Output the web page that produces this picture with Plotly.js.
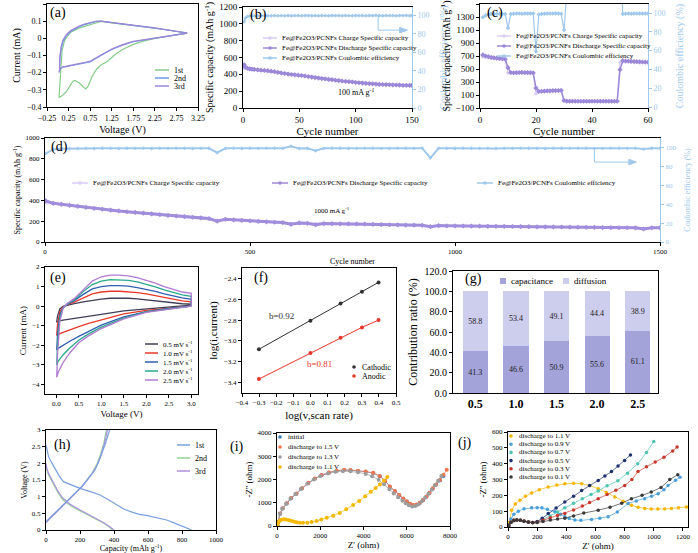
<!DOCTYPE html>
<html><head><meta charset="utf-8">
<script src="https://cdn.plot.ly/plotly-3.0.1.min.js"></script>
<style>html,body{margin:0;padding:0;background:#fff}#chart{width:698px;height:553px}</style>
</head><body><div id="chart"></div>
<script>
// ---------------- DATA ----------------
// (a) CV first three cycles
const aNames = ['1st','2nd','3rd'];
const aV1 = [3.0,2.75,2.5,2.25,2.0,1.75,1.5,1.3,1.15,1.0,0.9,0.8,0.7,0.65,0.6,0.5,0.4,0.35,0.3,0.2,0.1,0.05,0.03,0.04,0.06,0.1,0.15,0.2,0.3,0.4,0.5,0.6,0.75,0.9,1.0,1.25,1.5,1.75,2.0,2.25,2.5,2.75,3.0];
const aI1 = [0.03,0.02,0.012,0,-0.015,-0.035,-0.065,-0.1,-0.135,-0.155,-0.18,-0.22,-0.28,-0.295,-0.285,-0.26,-0.245,-0.25,-0.27,-0.31,-0.335,-0.345,-0.345,-0.3,-0.2,-0.07,-0.02,0.005,0.035,0.05,0.06,0.068,0.078,0.09,0.098,0.09,0.083,0.075,0.068,0.06,0.05,0.04,0.032];
const aV2 = [3.0,2.75,2.5,2.25,2.0,1.75,1.5,1.25,1.0,0.85,0.75,0.6,0.5,0.4,0.3,0.2,0.1,0.05,0.03,0.04,0.05,0.08,0.12,0.2,0.3,0.4,0.5,0.6,0.75,0.9,1.0,1.25,1.5,1.75,2.0,2.25,2.5,2.75,3.0];
const aI2 = [0.03,0.02,0.012,0.003,-0.008,-0.02,-0.04,-0.065,-0.1,-0.125,-0.138,-0.145,-0.15,-0.153,-0.157,-0.162,-0.17,-0.18,-0.195,-0.19,-0.12,-0.06,-0.02,0.015,0.04,0.055,0.068,0.078,0.09,0.098,0.1,0.092,0.085,0.077,0.069,0.06,0.05,0.04,0.03];
const aV3 = [3.0,2.75,2.5,2.25,2.0,1.75,1.5,1.25,1.0,0.85,0.75,0.6,0.5,0.4,0.3,0.2,0.1,0.05,0.03,0.04,0.05,0.08,0.12,0.2,0.3,0.4,0.5,0.6,0.75,0.9,1.0,1.25,1.5,1.75,2.0,2.25,2.5,2.75,3.0];
const aI3 = [0.03,0.021,0.013,0.004,-0.006,-0.018,-0.037,-0.062,-0.097,-0.12,-0.133,-0.142,-0.147,-0.15,-0.154,-0.159,-0.168,-0.18,-0.2,-0.19,-0.1,-0.045,-0.01,0.022,0.045,0.06,0.072,0.082,0.093,0.1,0.1,0.093,0.086,0.078,0.07,0.061,0.051,0.041,0.031];

// (b)(c)(d) series names
const capNames = ['Fe@Fe2O3/PCNFs Charge Specific capacity','Fe@Fe2O3/PCNFs Discharge Specific capacity','Fe@Fe2O3/PCNFs Coulombic efficiency'];

// (b) 100 mA/g cycling
const bCycle = [1,2,4,6,8,10,13,16,19,22,25,28,31,34,37,40,43,46,49,52,55,58,61,64,67,70,73,76,79,82,85,88,91,94,97,100,103,106,109,112,115,118,121,124,127,130,133,136,139,142,145,148,150];
const bDis = [515,488,472,466,462,458,454,450,447,443,438,431,424,417,410,403,398,394,390,386,380,373,367,361,356,350,345,340,336,331,326,321,317,313,309,303,300,296,293,290,287,284,281,279,278,276,274,273,272,270,269,268,268];
const bChg = [470,470,462,458,455,452,449,446,443,440,435,428,421,414,407,400,395,391,387,383,377,370,364,358,353,347,342,337,333,328,323,318,314,310,306,300,297,293,290,287,284,281,278,276,275,273,271,270,269,267,266,265,265];
const bCE = [93,97,98.8,99.2,99.5,99.4,99.6,99.5,99.7,99.6,99.5,99.8,99.6,99.7,99.5,99.8,99.6,99.7,99.9,99.6,99.8,99.7,99.5,99.8,99.6,99.9,99.7,99.6,99.8,99.7,99.9,99.6,99.8,99.7,99.5,99.9,99.7,99.8,99.6,99.9,99.7,100.2,99.8,99.6,99.9,99.7,99.8,99.6,99.9,99.7,99.8,99.6,99.8];

// (c) rate performance
const cCycle = [1,2,3,4,5,6,7,8,9,10,11,12,13,14,15,16,17,18,19,20,21,22,23,24,25,26,27,28,29,30,31,32,33,34,35,36,37,38,39,40,41,42,43,44,45,46,47,48,49,50,51,52,53,54,55,56,57,58,59,60];
const cDis = [717,700,690,680,672,668,663,658,651,520,446,442,444,446,447,445,444,443,440,206,155,158,160,163,165,167,168,169,170,17,5,5,4,4,4,4,4,4,4,4,4,4,4,4,4,4,4,4,4,490,628,622,620,617,614,612,610,608,606,604];
const cChg = [690,685,676,668,662,658,654,650,645,440,438,440,442,443,443,442,441,440,438,120,150,155,158,160,163,165,166,167,168,10,4,4,4,4,4,4,4,4,4,4,4,4,4,4,4,4,4,4,4,600,620,618,616,614,611,609,607,605,603,601];
const cCE = [95.5,97.5,98.5,99,99,99,99.2,99,99,84,99,99.3,99.5,99.5,99.3,99.5,99.4,99.5,99.4,59,98.5,99,99.3,99.4,99.5,99.5,99.6,99.5,99.2,82,160,160,160,160,160,160,160,160,160,160,160,160,160,160,160,160,160,160,160,160,99,99.2,99.4,99.3,99.5,99.4,99.5,99.4,99.5,99.4];

// (d) 1000 mA/g long cycling
const dCycle = [1,20,40,60,80,100,120,140,160,180,200,220,240,260,280,300,320,340,360,380,400,420,440,460,480,500,520,540,560,580,600,620,640,660,680,700,720,740,760,780,800,820,840,860,880,900,920,940,960,980,1000,1020,1040,1060,1080,1100,1120,1140,1160,1180,1200,1220,1240,1260,1280,1300,1320,1340,1360,1380,1400,1420,1440,1460,1480,1500];
const dDis = [397,372,362,352,342,332,323,315,307,299,291,284,277,270,263,256,250,244,238,232,226,200,218,213,208,203,198,194,190,187,170,183,180,165,177,176,175,175,174,172,170,168,166,165,163,162,160,147,158,156,155,154,153,152,151,151,150,149,148,147,146,146,145,144,143,142,141,140,139,138,137,137,136,125,137,138];
const dChg = [380,368,359,349,339,330,321,313,305,297,289,282,275,268,261,254,248,242,236,230,224,210,216,211,206,201,196,192,188,185,178,181,178,172,175,174,173,173,172,170,168,166,164,163,161,160,158,152,156,154,153,152,151,150,149,149,148,147,146,145,144,144,143,142,141,140,139,138,137,136,135,135,134,130,135,136];
const dCE = [94,98.5,99.2,99.4,99.5,99.6,99.5,99.7,99.6,99.5,99.7,99.6,99.8,99.5,99.7,99.6,99.8,99.7,99.5,99.6,99.7,95,99.6,99.8,99.5,99.7,99.6,99.8,99.7,99.6,101.8,99.5,99.7,97,99.6,99.8,99.7,99.5,99.6,99.8,99.7,99.6,99.5,99.8,99.7,99.6,99.8,89.5,99.7,99.6,99.5,99.8,99.7,99.6,99.8,99.5,99.7,99.6,99.8,99.7,99.6,99.5,99.8,99.7,99.6,99.8,99.7,99.5,99.6,99.8,99.7,99.6,99.8,98.8,99.7,99.6];

// (e) CV at different scan rates
const eNames = ['0.5 mV s<sup>-1</sup>','1.0 mV s<sup>-1</sup>','1.5 mV s<sup>-1</sup>','2.0 mV s<sup>-1</sup>','2.5 mV s<sup>-1</sup>'];
const eV = [3.0,2.5,2.0,1.5,1.0,0.7,0.5,0.3,0.15,0.05,0.01,0.01,0.03,0.08,0.15,0.25,0.4,0.6,0.8,1.0,1.2,1.4,1.6,1.8,2.0,2.2,2.4,2.6,2.8,3.0,3.0];
const eI05 = [0.05,-0.05,-0.13,-0.25,-0.42,-0.52,-0.58,-0.65,-0.72,-0.77,-0.8,-0.8,-0.5,-0.15,-0.02,0.05,0.12,0.22,0.3,0.36,0.4,0.41,0.4,0.37,0.32,0.27,0.21,0.16,0.12,0.1,0.05];
const eI10 = [0.0,-0.1,-0.22,-0.4,-0.7,-0.9,-1.05,-1.2,-1.35,-1.45,-1.5,-1.5,-0.9,-0.3,-0.05,0.08,0.2,0.42,0.62,0.72,0.76,0.76,0.74,0.69,0.62,0.53,0.44,0.35,0.27,0.22,0.0];
const eI15 = [0.0,-0.12,-0.28,-0.55,-0.98,-1.3,-1.55,-1.8,-2.0,-2.15,-2.25,-2.25,-1.4,-0.45,-0.08,0.1,0.28,0.6,0.88,1.0,1.05,1.05,1.02,0.95,0.86,0.75,0.63,0.52,0.42,0.35,0.0];
const eI20 = [0.0,-0.14,-0.3,-0.62,-1.08,-1.45,-1.75,-2.15,-2.5,-2.8,-3.0,-3.0,-1.9,-0.6,-0.1,0.12,0.33,0.75,1.1,1.28,1.35,1.35,1.32,1.24,1.12,0.98,0.83,0.69,0.57,0.5,0.0];
const eI25 = [0.0,-0.15,-0.32,-0.66,-1.15,-1.55,-1.88,-2.4,-2.9,-3.35,-3.65,-3.65,-2.4,-0.8,-0.12,0.14,0.38,0.85,1.28,1.5,1.58,1.58,1.55,1.46,1.33,1.17,1.0,0.85,0.72,0.65,0.0];

// (f) log(i) vs log(v)
const fNames = ['Cathodic','Anodic'];
const fLogV = [-0.301,0.0,0.176,0.301,0.398];
const fCath = [-3.08,-2.806,-2.64,-2.527,-2.438];
const fAnod = [-3.366,-3.115,-2.97,-2.87,-2.80];
const fLabels = ['b=0.92','b=0.81'];

// (g) contribution ratio
const gNames = ['capacitance','diffusion'];
const gRates = ['0.5','1.0','1.5','2.0','2.5'];
const gCap = [41.3,46.6,50.9,55.6,61.1];
const gDif = [58.8,53.4,49.1,44.4,38.9];

// (h) charge/discharge profiles
const hNames = ['1st','2nd','3rd'];
const h1dCap = [0,5,15,30,41,60,80,102,150,200,260,318,370,415,460,514,550,590,650,710,760,800,830,857];
const h1dV = [2.55,2.4,2.2,2.05,1.95,1.75,1.6,1.45,1.35,1.25,1.15,1.05,0.9,0.75,0.62,0.52,0.47,0.44,0.38,0.3,0.2,0.12,0.06,0.0];
const h1cCap = [0,30,60,90,118,150,180,200,230,259,288,310,330,350,365,375];
const h1cV = [0.25,0.4,0.55,0.7,0.82,0.98,1.12,1.25,1.42,1.6,1.8,2.05,2.3,2.6,2.85,3.0];
const h2dCap = [0,5,15,31,51,75,100,140,190,240,290,340,370,390];
const h2dV = [1.95,1.8,1.65,1.5,1.3,1.08,0.9,0.74,0.6,0.47,0.35,0.2,0.1,0.0];
const h2cCap = [0,30,60,90,120,150,180,210,240,270,300,320,340,355];
const h2cV = [0.22,0.38,0.54,0.69,0.84,1.0,1.15,1.3,1.5,1.7,1.98,2.25,2.6,3.0];
const h3dCap = [0,5,15,31,51,75,100,140,190,240,290,340,375,400];
const h3dV = [2.0,1.85,1.7,1.55,1.35,1.12,0.95,0.78,0.63,0.5,0.37,0.22,0.1,0.0];
const h3cCap = [0,30,60,90,120,150,180,210,240,270,300,322,343,362];
const h3cV = [0.22,0.37,0.53,0.68,0.83,0.99,1.14,1.29,1.48,1.68,1.95,2.22,2.58,3.0];

// (i) EIS
const iNames = ['initial','discharge to 1.5 V','discharge to 1.3 V','discharge to 1.1 V'];
const iInitX = [20,60,140,260,450,650,900,1150,1450,1750,2060,2400,2750,3100,3400,3750,4100,4450,4750,5000,5220,5450,5650,5840,6000,6150,6300,6450,6600,6750,6910,7050,7200,7350,7530,7700];
const iInitY = [30,180,530,750,970,1190,1390,1610,1850,2030,2180,2290,2370,2410,2400,2370,2330,2280,2140,1940,1690,1490,1320,1170,1050,950,890,910,990,1110,1260,1420,1600,1770,1960,2150];
const i15X = [20,60,140,260,450,650,900,1150,1450,1750,2060,2400,2750,3100,3400,3750,4100,4450,4750,5000,5220,5450,5650,5840,6000,6150,6300,6450,6600,6750,6910,7050,7200,7350,7530,7700,7850];
const i15Y = [30,180,540,760,980,1200,1400,1620,1860,2040,2190,2300,2380,2420,2410,2380,2340,2290,2150,1950,1700,1500,1330,1180,1060,960,900,920,1000,1120,1270,1430,1620,1790,1980,2200,2420];
const i13X = [20,60,130,240,420,620,850,1100,1400,1700,2000,2350,2700,3050,3400,3750,4100,4400,4700,4950,5200,5400,5600,5800,5950,6100,6250,6400,6550,6700,6850,7000,7150,7300,7450,7600];
const i13Y = [30,170,520,740,960,1170,1380,1590,1820,2000,2150,2260,2330,2360,2350,2310,2240,2140,1990,1800,1580,1400,1240,1090,980,890,840,860,940,1060,1210,1380,1560,1750,1950,2150];
const i11X = [20,60,120,200,300,400,520,650,780,900,1050,1200,1400,1600,1830,2050,2300,2600,2900,3200,3520,3800,4080,4330,4560,4760,4950,5100];
const i11Y = [40,150,230,270,285,280,260,225,190,160,140,135,145,170,220,280,350,440,560,720,900,1080,1280,1470,1630,1780,1960,2110];

// (j) EIS at low voltages
const jNames = ['discharge to 1.1 V','discharge to 0.9 V','discharge to 0.7 V','discharge to 0.5 V','discharge to 0.3 V','discharge to 0.1 V'];
const j11X = [10,25,50,82,120,162,215,276,335,390,450,505,560,619,675,733,790,847,893,938,983,1028,1075,1121,1170,1224];
const j11Y = [30,106,145,169,195,214,236,252,265,273,276,273,262,242,218,190,163,137,125,117,114,113,114,117,121,127];
const j09X = [5,20,40,71,110,162,200,233,270,322,360,390,420,459,500,573,630,687,750,824,880,938,985,1030,1070,1098,1150,1180];
const j09Y = [10,50,80,100,115,121,122,121,112,96,80,65,53,44,42,48,55,65,95,148,165,179,195,210,235,262,295,314];
const j07X = [5,20,40,60,85,110,140,170,200,240,290,340,390,450,510,570,619,680,754,820,890,950,1000];
const j07Y = [10,30,42,45,43,38,32,28,32,48,70,95,121,150,178,205,228,260,292,340,400,470,540];
const j05X = [5,20,40,60,85,110,140,170,200,235,276,330,390,450,505,560,619,665,710,755,800,840];
const j05Y = [10,30,42,45,42,36,30,28,35,55,85,120,158,195,231,262,294,322,350,385,420,455];
const j03X = [5,20,40,60,85,110,140,170,200,240,290,340,390,450,510,560,619,680,740,801,850,892,950,1010,1070,1130,1160];
const j03Y = [10,30,42,45,43,38,32,28,30,42,58,72,85,108,132,155,179,205,232,262,300,350,380,410,440,480,505];
const j01X = [5,20,40,60,85,110,140,170,200,240,290,340,390,450,520,619,700,780,847,920,983,1050,1110,1165];
const j01Y = [10,28,40,44,42,37,31,27,28,35,44,50,56,70,88,106,125,150,179,200,221,250,300,330];

// ---------------- STYLE / LAYOUT ----------------
const W = 698, H = 553;
const SERIF = 'Liberation Serif, Times New Roman, serif';
const P = px => px / W;
const Q = py => 1 - py / H;
const dom = (x0, x1, y0, y1) => ({x: [x0 / W, x1 / W], y: [1 - y1 / H, 1 - y0 / H]});

const D = {
  a: dom(47, 198, 4, 107), b: dom(243, 412, 7, 108), c: dom(480, 648, 4, 108),
  d: dom(45, 660, 138, 242), e: dom(45, 198, 267, 394), f: dom(242, 396, 268, 393),
  g: dom(453, 658, 271, 393), h: dom(46, 216, 430, 530), i: dom(277, 450, 433, 526),
  j: dom(508, 688, 432, 527)
};

const CEc = '#9fc8ec';
const purple = '#9c88d8', lav = '#d8cef2';

function ax(o, fs, ts) {
  const base = {
    showline: true, linecolor: '#000', linewidth: 1, mirror: true,
    ticks: 'outside', ticklen: 3, tickwidth: 1, tickcolor: '#000',
    showgrid: false, zeroline: false,
    tickfont: {family: SERIF, size: fs || 8, color: '#000'},
  };
  const out = Object.assign(base, o);
  if (o.title) out.title = {text: o.title.text, standoff: o.title.standoff, font: {family: SERIF, size: ts || 10, color: '#000'}};
  return out;
}
function rax(o, fs, ts) {
  return Object.assign({
    showline: true, linecolor: CEc, linewidth: 1, ticks: 'outside', ticklen: 3,
    tickcolor: CEc, showgrid: false, zeroline: false, side: 'right',
    tickfont: {family: SERIF, size: fs || 8, color: CEc},
  }, o, {title: {text: 'Coulombic efficiency (%)', font: {family: SERIF, size: ts || 10, color: CEc}}});
}

const capT = 'Specific capacity (mAh g<sup>-1</sup>)';

const layout = {
  width: W, height: H, margin: {l: 0, r: 0, t: 0, b: 0},
  paper_bgcolor: '#fff', plot_bgcolor: '#fff', showlegend: false,
  barmode: 'stack', font: {family: SERIF, color: '#000', size: 10},
  xaxis: ax({domain: D.a.x, anchor: 'y', range: [-0.25, 3.25], tick0: -0.25, dtick: 0.5, tickformat: '.2f', title: {text: 'Voltage (V)', standoff: 4}}, 8, 10),
  yaxis: ax({domain: D.a.y, anchor: 'x', range: [-0.4, 0.2], dtick: 0.1, title: {text: 'Current (mA)', standoff: 4}}, 8, 10),

  xaxis2: ax({domain: D.b.x, anchor: 'y2', range: [0, 150], dtick: 50, title: {text: 'Cycle number', standoff: 2}}, 9, 11),
  yaxis2: ax({domain: D.b.y, anchor: 'x2', range: [0, 1200], dtick: 200, mirror: false, title: {text: capT, standoff: 3}}, 9, 10),
  yaxis3: rax({overlaying: 'y2', anchor: 'x2', range: [0, 109], tickvals: [0, 20, 40, 60, 80, 100]}, 8, 10),

  xaxis3: ax({domain: D.c.x, anchor: 'y4', range: [0, 60], dtick: 20, title: {text: 'Cycle number', standoff: 2}}, 9, 11),
  yaxis4: ax({domain: D.c.y, anchor: 'x3', range: [-100, 1500], tick0: -100, dtick: 200, mirror: false, title: {text: capT, standoff: 3}}, 9, 10),
  yaxis5: rax({overlaying: 'y4', anchor: 'x3', range: [-1, 109.6], tickvals: [0, 20, 40, 60, 80, 100]}, 8, 10),

  xaxis4: ax({domain: D.d.x, anchor: 'y6', range: [0, 1500], dtick: 500, title: {text: 'Cycle number', standoff: 2}}, 7, 8),
  yaxis6: ax({domain: D.d.y, anchor: 'x4', range: [0, 1000], dtick: 200, mirror: false, title: {text: capT, standoff: 3}}, 7, 8),
  yaxis7: rax({overlaying: 'y6', anchor: 'x4', range: [0, 110.6], tickvals: [0, 20, 40, 60, 80, 100]}, 7, 8),

  xaxis5: ax({domain: D.e.x, anchor: 'y8', range: [-0.25, 3.15], tickvals: [0, 0.5, 1, 1.5, 2, 2.5, 3], tickformat: '.1f', title: {text: 'Voltage (V)', standoff: 3}}, 7, 9),
  yaxis8: ax({domain: D.e.y, anchor: 'x5', range: [-4.5, 2], dtick: 1, title: {text: 'Current (mA)', standoff: 3}}, 7, 9),

  xaxis6: ax({domain: D.f.x, anchor: 'y9', range: [-0.4, 0.5], dtick: 0.1, tickformat: '.1f', title: {text: 'log(v,scan rate)', standoff: 4}}, 7, 11),
  yaxis9: ax({domain: D.f.y, anchor: 'x6', range: [-3.5, -2.3], tickvals: [-3.4, -3.2, -3.0, -2.8, -2.6, -2.4], tickformat: '.1f', title: {text: 'log(i,current)', standoff: 4}}, 7, 11),

  xaxis7: ax({domain: D.g.x, anchor: 'y10', type: 'category', range: [-0.55, 4.5], ticks: '', tickfont: {family: SERIF, size: 12, color: '#000', weight: 'bold'}}, 12, 12),
  yaxis10: ax({domain: D.g.y, anchor: 'x7', range: [0, 120], dtick: 20, tickformat: '.1f', title: {text: 'Contribution ratio (%)', standoff: 4}}, 10, 12),

  xaxis8: ax({domain: D.h.x, anchor: 'y11', range: [0, 1000], dtick: 200, title: {text: 'Capacity (mAh g<sup>-1</sup>)', standoff: 1}}, 7, 8),
  yaxis11: ax({domain: D.h.y, anchor: 'x8', range: [0, 3], dtick: 0.5, title: {text: 'Voltage (V)', standoff: 3}}, 7, 8),

  xaxis9: ax({domain: D.i.x, anchor: 'y12', range: [0, 8000], dtick: 2000, title: {text: "Z' (ohm)", standoff: 2}}, 7, 9),
  yaxis12: ax({domain: D.i.y, anchor: 'x9', range: [0, 4000], dtick: 1000, title: {text: "-Z'' (ohm)", standoff: 3}}, 7, 9),

  xaxis10: ax({domain: D.j.x, anchor: 'y13', range: [0, 1235], dtick: 200, title: {text: "Z' (ohm)", standoff: 2}}, 7, 9),
  yaxis13: ax({domain: D.j.y, anchor: 'x10', range: [0, 600], dtick: 100, title: {text: "-Z'' (ohm)", standoff: 3}}, 7, 9),

  shapes: [], annotations: []
};
const S = layout.shapes, A = layout.annotations;

// ---------------- TRACES ----------------
const traces = [];
const line = (x, y, xa, ya, color, name, w) => ({type: 'scatter', mode: 'lines', x, y, xaxis: xa, yaxis: ya, name, line: {color, width: w || 1.2}, hoverinfo: 'skip'});
const lm = (x, y, xa, ya, color, name, lw, ms, sym) => ({type: 'scatter', mode: 'lines+markers', x, y, xaxis: xa, yaxis: ya, name,
  line: {color, width: lw}, marker: {color, size: ms, symbol: sym || 'circle'}, hoverinfo: 'skip'});

// (a)
const aCol = ['#86cc8a', '#6f9de2', '#9e84d8'];
traces.push(line(aV1, aI1, 'x', 'y', aCol[0], aNames[0]));
traces.push(line(aV2, aI2, 'x', 'y', aCol[1], aNames[1]));
traces.push(line(aV3, aI3, 'x', 'y', aCol[2], aNames[2]));
// (b)
traces.push(lm(bCycle, bChg, 'x2', 'y2', lav, capNames[0], 1.5, 3));
traces.push(lm(bCycle, bDis, 'x2', 'y2', purple, capNames[1], 2.5, 4, 'diamond'));
traces.push(lm(bCycle, bCE, 'x2', 'y3', CEc, capNames[2], 1.5, 3, 'diamond'));
// (c)
traces.push(lm(cCycle, cChg, 'x3', 'y4', lav, capNames[0], 1.2, 3.5));
traces.push(lm(cCycle, cDis, 'x3', 'y4', purple, capNames[1], 1.5, 4, 'diamond'));
traces.push(lm(cCycle, cCE, 'x3', 'y5', CEc, capNames[2], 1.2, 3.5, 'diamond'));
// (d)
traces.push(lm(dCycle, dChg, 'x4', 'y6', lav, capNames[0], 2, 3));
traces.push(lm(dCycle, dDis, 'x4', 'y6', '#a08ddc', capNames[1], 3, 4, 'diamond'));
traces.push(lm(dCycle, dCE, 'x4', 'y7', CEc, capNames[2], 2, 3, 'diamond'));
// (e)
const eCol = ['#3e3e58', '#e8382a', '#2f5fb0', '#2aa88a', '#b07ad0'];
[eI05, eI10, eI15, eI20, eI25].forEach((I, k) => traces.push(line(eV, I, 'x5', 'y8', eCol[k], eNames[k], 1.3)));
// (f)
traces.push(lm(fLogV, fCath, 'x6', 'y9', '#333', fNames[0], 1, 4));
traces.push(lm(fLogV, fAnod, 'x6', 'y9', '#e8352a', fNames[1], 1, 4));
// (g)
const gCol = ['#a3a3da', '#cdcdee'];
traces.push({type: 'bar', x: gRates, y: gCap, xaxis: 'x7', yaxis: 'y10', name: gNames[0], width: 0.62,
  marker: {color: gCol[0]}, text: gCap.map(v => v.toFixed(1)), textposition: 'inside', insidetextanchor: 'middle',
  textfont: {family: SERIF, size: 8, color: '#222'}, hoverinfo: 'skip'});
traces.push({type: 'bar', x: gRates, y: gDif, xaxis: 'x7', yaxis: 'y10', name: gNames[1], width: 0.62,
  marker: {color: gCol[1]}, text: gDif.map(v => v.toFixed(1)), textposition: 'inside', insidetextanchor: 'middle',
  textfont: {family: SERIF, size: 8, color: '#222'}, hoverinfo: 'skip'});
// (h)
const hCol = ['#7aa0e0', '#94d494', '#ac90e0'];
traces.push(line(h2dCap, h2dV, 'x8', 'y11', hCol[1], hNames[1]));
traces.push(line(h2cCap, h2cV, 'x8', 'y11', hCol[1], hNames[1]));
traces.push(line(h3dCap, h3dV, 'x8', 'y11', hCol[2], hNames[2]));
traces.push(line(h3cCap, h3cV, 'x8', 'y11', hCol[2], hNames[2]));
traces.push(line(h1dCap, h1dV, 'x8', 'y11', hCol[0], hNames[0]));
traces.push(line(h1cCap, h1cV, 'x8', 'y11', hCol[0], hNames[0]));
// (i)
const iCol = ['#3d7cc0', '#f2744c', '#9c9c9c', '#f5b800'];
traces.push(lm(iInitX, iInitY, 'x9', 'y12', iCol[0], iNames[0], 0.7, 4));
traces.push(lm(i15X, i15Y, 'x9', 'y12', iCol[1], iNames[1], 0.7, 4));
traces.push(lm(i13X, i13Y, 'x9', 'y12', iCol[2], iNames[2], 0.7, 4));
traces.push(lm(i11X, i11Y, 'x9', 'y12', iCol[3], iNames[3], 0.7, 4));
// (j)
const jCol = ['#f5b400', '#4aa0d8', '#4cc4b0', '#1c2f6e', '#c8392b', '#3a3a3a'];
[[j11X, j11Y], [j09X, j09Y], [j07X, j07Y], [j05X, j05Y], [j03X, j03Y], [j01X, j01Y]].forEach((s, k) =>
  traces.push(lm(s[0], s[1], 'x10', 'y13', jCol[k], jNames[k], 0.7, 3.5)));

// ---------------- LEGENDS / LABELS ----------------
function sym(kind, color, x, y, w) {
  if (kind === 'line' || kind === 'linedot')
    S.push({type: 'line', xref: 'paper', yref: 'paper', x0: P(x), x1: P(x + w), y0: Q(y), y1: Q(y), line: {color, width: 1.5}});
  if (kind === 'linedot' || kind === 'dot') {
    const cx = x + w / 2, r = 1.8;
    S.push({type: 'circle', xref: 'paper', yref: 'paper', x0: P(cx - r), x1: P(cx + r), y0: Q(y + r), y1: Q(y - r), fillcolor: color, line: {width: 0}});
  }
  if (kind === 'square') {
    const r = 3;
    S.push({type: 'rect', xref: 'paper', yref: 'paper', x0: P(x), x1: P(x + 2 * r), y0: Q(y + r), y1: Q(y - r), fillcolor: color, line: {width: 0}});
  }
}
function txt(x, y, text, size, color, anchor) {
  A.push({xref: 'paper', yref: 'paper', x: P(x), y: Q(y), xanchor: anchor || 'left', yanchor: 'middle', text, showarrow: false,
    font: {family: SERIF, size, color: color || '#000'}});
}
function legend(names, colors, kind, x, y0, dy, w, size) {
  names.forEach((n, k) => { sym(kind, colors[k], x, y0 + k * dy, w); txt(x + w + 3, y0 + k * dy, n, size); });
}
legend(aNames, aCol, 'line', 155, 70, 8, 14, 8);
legend(capNames, [lav, purple, CEc], 'linedot', 263, 38, 10, 14, 7);
legend(capNames, [lav, purple, CEc], 'linedot', 497, 36, 10, 14, 7);
[72, 272, 477].forEach((x, k) => { sym('linedot', [lav, purple, CEc][k], x, 183, 16); txt(x + 19, 183, capNames[k], 7); });
legend(eNames, eCol, 'line', 145, 344, 9, 13, 7);
legend(fNames, ['#333', '#e8352a'], 'dot', 351, 367, 9, 6, 8);
[500, 563].forEach((x, k) => { sym('square', gCol[k], x, 281, 6); txt(x + 9, 281, gNames[k], 9); });
legend(hNames, hCol, 'line', 177, 445, 13, 13, 8);
legend(iNames, iCol, 'dot', 277, 437, 10, 6, 7);
legend(jNames, jCol, 'dot', 508, 436, 8.2, 6, 7);

// panel letters
[['(a)', 58, 13], ['(b)', 258, 15], ['(c)', 495, 13], ['(d)', 60, 147], ['(e)', 58, 278], ['(f)', 261, 278],
 ['(g)', 473, 279], ['(h)', 62, 445], ['(i)', 237, 447], ['(j)', 465, 443]].forEach(p => txt(p[1], p[2], p[0], 14, '#000', 'center'));

// texts inside plots
A.push({xref: 'x2', yref: 'y2', x: 100, y: 190, text: '100 mA g<sup>-1</sup>', showarrow: false, font: {family: SERIF, size: 8}});
A.push({xref: 'x4', yref: 'y6', x: 700, y: 300, text: '1000 mA g<sup>-1</sup>', showarrow: false, font: {family: SERIF, size: 7}});
A.push({xref: 'x6', yref: 'y9', x: -0.17, y: -2.76, text: fLabels[0], showarrow: false, font: {family: SERIF, size: 9, color: '#333'}});
A.push({xref: 'x6', yref: 'y9', x: 0.05, y: -3.22, text: fLabels[1], showarrow: false, font: {family: SERIF, size: 9, color: '#e8352a'}});

// elbow arrows pointing to the right axis (drawn as shapes)
S.push({type: 'path', xref: 'x2', yref: 'y3', path: 'M 120 99.5 L 120 84 L 140 84', line: {color: CEc, width: 1}});
S.push({type: 'path', xref: 'x2', yref: 'y3', path: 'M 146 84 L 139 87 L 139 81 Z', fillcolor: CEc, line: {color: CEc, width: 1}});
S.push({type: 'path', xref: 'x4', yref: 'y7', path: 'M 1340 99.5 L 1340 85 L 1425 85', line: {color: CEc, width: 1}});
S.push({type: 'path', xref: 'x4', yref: 'y7', path: 'M 1442 85 L 1424 88 L 1424 82 Z', fillcolor: CEc, line: {color: CEc, width: 1}});

Plotly.newPlot('chart', traces, layout, {staticPlot: true, displayModeBar: false});
</script>
</body></html>
